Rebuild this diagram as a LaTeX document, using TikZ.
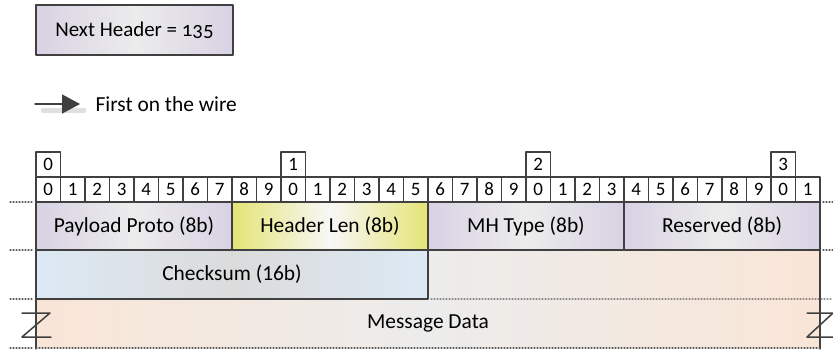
\documentclass[tikz,border=0pt]{standalone}
\usepackage{fontspec}
\setmainfont{Carlito}
\usetikzlibrary{arrows.meta,positioning}
\definecolor{frame}{RGB}{64,64,64}
\definecolor{lavender}{RGB}{216,210,228}
\definecolor{lemon}{RGB}{228,228,118}
\definecolor{sky}{RGB}{220,233,244}
\definecolor{peach}{RGB}{249,229,214}
\definecolor{mist}{RGB}{236,236,236}
\definecolor{dots}{RGB}{90,90,90}

\begin{document}
\begin{tikzpicture}[x=1bp, y=-1bp, line cap=round, line join=round,
  bitbox/.style={draw=frame, line width=1.3bp, fill=white, inner sep=0pt, outer sep=0pt,
                 minimum width=24.5bp, minimum height=25bp, font=\fontsize{19}{22}\selectfont},
  field/.style={draw=frame, line width=1.3bp, inner sep=0pt, outer sep=0pt,
                minimum height=48bp, font=\fontsize{21.5}{25}\selectfont},
  cut/.style={frame, line width=1.5bp},
  guide/.style={dots, line width=1.1bp, dash pattern=on 1bp off 2bp}]

  \useasboundingbox (0,0) rectangle (833,349);

  %========= geometry parameters =========
  \def\xL{36}        % left edge of the word
  \def\bw{24.5}      % width of one bit
  \pgfmathsetmacro{\xM}{\xL+16*\bw}   % half word
  \pgfmathsetmacro{\xR}{\xL+32*\bw}   % right edge of the word

  %========= legend =========
  \node[field, minimum width=197bp, minimum height=50bp,
        left color=lavender, right color=lavender, middle color=mist, font=\fontsize{21}{25}\selectfont]
       (nh) at (134.5,30) {Next Header = {\addfontfeatures{Numbers=OldStyle}135}};

  \coordinate (wireL) at (35,104);
  \coordinate (wireR) at (80,104);
  \node[anchor=west, font=\fontsize{21.5}{25}\selectfont] (wire) at (92,104) {First on the wire};
  \draw[black!12, line width=5bp] ([shift={(8,6)}]wireL) -- ([shift={(4,6)}]wireR);
  \draw[frame, line width=1.5bp, -{Triangle[length=18bp, width=19bp]}] (wireL) -- (wireR);

  %========= message data region =========
  \shade[left color=peach, right color=peach, middle color=mist]
      (\xM,250) -- (\xR,250) -- (\xR,348) -- (\xL,348) -- (\xL,299) -- (\xM,299) -- cycle;
  \draw[frame, line width=1.3bp] (\xR,250) -- (\xR,349);
  \draw[frame, line width=1.3bp] (\xL,299) -- (\xL,349);
  \node[font=\fontsize{21.5}{25}\selectfont] (msg) at (\xM,323.5) {Message Data};

  %========= bit ruler =========
  \foreach \i in {0,...,31} {
    \pgfmathtruncatemacro{\d}{mod(\i,10)}
    \node[bitbox] (bit\i) at (\xL+\bw/2+\i*\bw,189.5) {\d};
  }
  \foreach \i/\d in {0/0,10/1,20/2,30/3}
    \node[bitbox, above=0pt of bit\i] (dec\d) {\d};

  %========= header fields =========
  \node[field, minimum width=196bp, left color=lavender, right color=lavender, middle color=mist]
       (pp) at (134,226) {Payload Proto (8b)};
  \node[field, minimum width=196bp, left color=lemon, right color=lemon, middle color=white!60!mist]
       (hl) at (330,226) {Header Len (8b)};
  \node[field, minimum width=196bp, left color=lavender, right color=lavender, middle color=mist]
       (mh) at (526,226) {MH Type (8b)};
  \node[field, minimum width=196bp, left color=lavender, right color=lavender, middle color=mist]
       (rs) at (722,226) {Reserved (8b)};
  \node[field, minimum width=392bp, minimum height=49bp, left color=sky, right color=sky, middle color=black!14]
       (ck) at (232,274.5) {Checksum (16b)};

  %========= row guides =========
  \foreach \y in {202,250,299,348}
    \draw[guide] (10,\y) -- (33,\y);
  \foreach \y in {202,250}
    \draw[guide] (823,\y) -- (833,\y);
  \draw[guide] (ck.south east) ++(3,0) -- (833,299);
  \draw[guide] (\xL,348) -- (\xR,348);

  %========= break marks =========
  \draw[cut] (22,313) -- (50,313) -- (22,337) -- (51,337);
  \draw[cut] (807,313) -- (833,313) -- (807,337) -- (833,337);
\end{tikzpicture}
\end{document}
